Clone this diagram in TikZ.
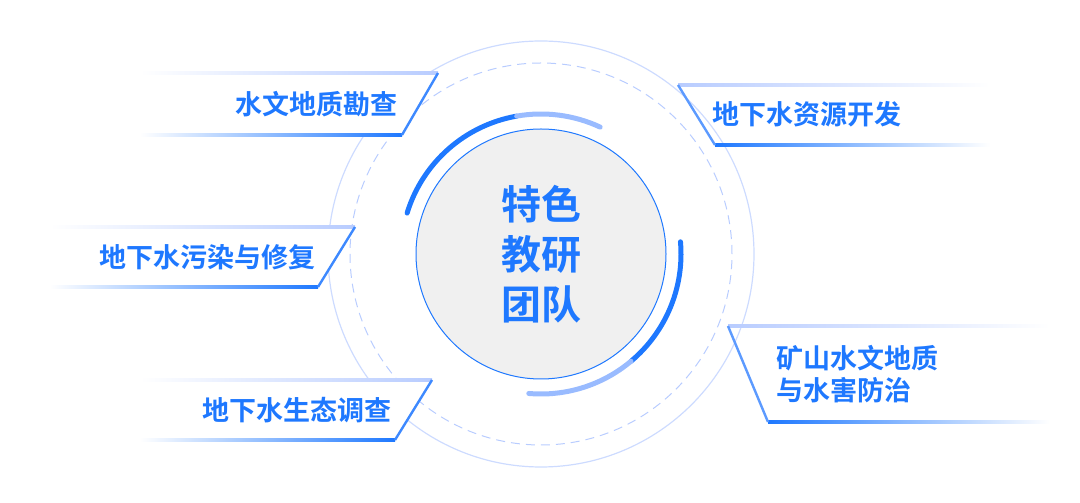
\documentclass[tikz,border=0pt]{standalone}
\usepackage{fontspec}
\newfontfamily\cjk{Noto Sans CJK SC Bold}
\usetikzlibrary{positioning}
\definecolor{tblue}{HTML}{1E78FF}
\definecolor{lblue}{HTML}{B8CCFF}
\begin{document}
\begin{tikzpicture}[x=1pt,y=1pt,font=\cjk]
\tikzset{label/.style={text=tblue, font=\cjk\fontsize{27}{32}\selectfont, inner sep=0pt, align=left},
  edge/.style={draw=none}}
\useasboundingbox (0,0) rectangle (1080,503);
% circles
\coordinate (c) at (541,249);
\draw[lblue!70, line width=1.2pt] (c) circle (213);
\draw[lblue, dashed, dash pattern=on 9pt off 6pt, line width=1pt] (c) circle (191);
\draw[tblue, fill=gray!12, line width=1pt] (c) circle (125);
\draw[tblue, line width=5pt, line cap=round] (c) ++(163:140) arc (163:100:140);
\draw[lblue!80!tblue, line width=5pt, line cap=round] (c) ++(100:140) arc (100:65:140);
\draw[tblue, line width=5pt, line cap=round] (c) ++(5:140) arc (5:-50:140);
\draw[lblue!80!tblue, line width=5pt, line cap=round] (c) ++(-50:140) arc (-50:-95:140);
\node[text=tblue, font=\cjk\fontsize{40}{50}\selectfont, align=center] (core) at (c) {特色\\教研\\团队};
% left banners: top y, bottom y, top-right x, bottom-right x, left x
\foreach \t/\b/\tr/\br/\l [count=\i] in {430/368/438/402/140, 276/216/355/318/50, 123/63/432/395/140}{
  \fill[white] (\l,\b) -- (\br,\b) -- (\tr,\t) -- (\l,\t) -- cycle;
  \shade[left color=white, right color=lblue] (\l,\t-1.2) rectangle (\tr,\t+1.2);
  \shade[left color=white, right color=tblue] (\l,\b-1.8) rectangle (\br,\b+1.8);
  \draw[tblue!80!lblue, line width=2.4pt] (\br,\b) -- (\tr,\t);
}
% right banners: top y, bottom y, top-left x, bottom-left x, right x
\foreach \t/\b/\tl/\bl/\r in {418/358/678/715/990, 177/81/728/768/1050}{
  \shade[right color=white, left color=lblue] (\tl,\t-1.2) rectangle (\r,\t+1.2);
  \shade[right color=white, left color=tblue] (\bl,\b-1.8) rectangle (\r,\b+1.8);
  \draw[tblue!60!lblue, line width=2.4pt] (\bl,\b) -- (\tl,\t);
}
\node[label, anchor=east] (survey) at (398,399) {水文地质勘查};
\node[label, anchor=east] (pollution) at (316,246) {地下水污染与修复};
\node[label, anchor=east] (ecology) at (392,93) {地下水生态调查};
\node[label, anchor=west] (resource) at (712,389) {地下水资源开发};
\node[label, anchor=west, align=left] (mine) at (776,129) {矿山水文地质\\与水害防治};
\end{tikzpicture}
\end{document}
